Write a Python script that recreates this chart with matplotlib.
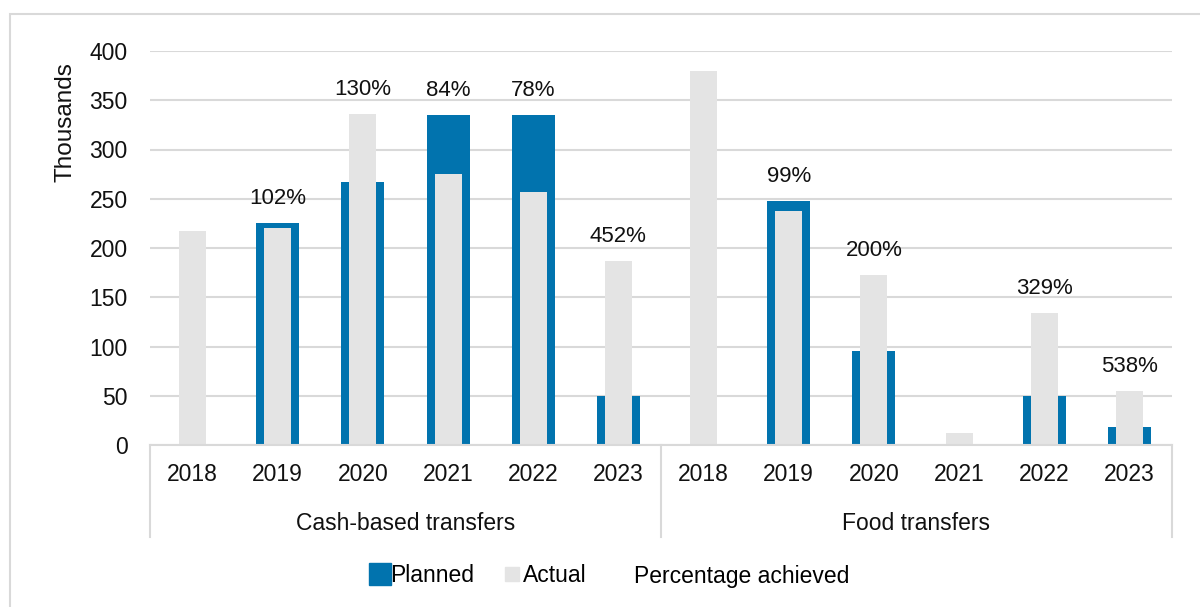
import matplotlib.pyplot as plt
from matplotlib.lines import Line2D
from matplotlib.patches import Rectangle
import numpy as np

# === Data (thousands of beneficiaries) ===
groups = ["Cash-based transfers", "Food transfers"]
years = ["2018", "2019", "2020", "2021", "2022", "2023"]
planned_cash = [0, 225, 267, 335, 335, 50]
actual_cash = [217, 220, 336, 275, 257, 187]
planned_food = [0, 248, 95, 0, 50, 18.5]
actual_food = [380, 237.5, 172.5, 12.5, 134, 54.5]
pct_cash = ["", "102%", "130%", "84%", "78%", "452%"]
pct_food = ["", "99%", "200%", "", "329%", "538%"]

planned = planned_cash + planned_food
actual = actual_cash + actual_food
pct = pct_cash + pct_food
labels = years + years

blue = "#0173ae"
grey = "#e4e4e4"
grid_c = "#d9d9d9"
txt_c = "#111111"
fs = 16.5

plt.rcParams["font.family"] = ["Liberation Sans", "DejaVu Sans"]

fig = plt.figure(figsize=(12, 6.07), dpi=100)
ax = fig.add_axes([150 / 1200, 1 - 445 / 607, 1022 / 1200, 394 / 607])

x = np.arange(len(planned))
ax.bar(x, planned, width=0.505, color=blue, zorder=2)
ax.bar(x, actual, width=0.317, color=grey, zorder=3)

# percentage labels above the taller bar
for xi, p, a, t in zip(x, planned, actual, pct):
    if t:
        ax.annotate(t, (xi, max(p, a)), xytext=(0, 10), textcoords="offset points",
                    ha="center", va="bottom", fontsize=16, color=txt_c)

ax.set_xlim(-0.5, len(x) - 0.5)
ax.set_ylim(0, 400)
ax.set_yticks(np.arange(0, 401, 50))
ax.yaxis.grid(True, color=grid_c, linewidth=1.5, zorder=0)
ax.set_axisbelow(True)
ax.tick_params(axis="y", length=0, pad=16, labelsize=fs, labelcolor=txt_c)
ax.set_xticks([])
for s in ["top", "right", "left"]:
    ax.spines[s].set_visible(False)
ax.spines["bottom"].set_color(grid_c)
ax.spines["bottom"].set_linewidth(1.5)
ax.spines["bottom"].set_zorder(4)

# category axis: years, group names and separators
trans = ax.get_xaxis_transform()
for xi, lab in zip(x, labels):
    ax.text(xi, -0.074, lab, transform=trans, ha="center", va="center",
            fontsize=fs, color=txt_c)
for gi, g in enumerate(groups):
    ax.text(gi * 6 + 2.5, -0.198, g, transform=trans, ha="center", va="center",
            fontsize=fs, color=txt_c)
for sx in [-0.5, 5.5, 11.5]:
    ax.plot([sx, sx], [0, -0.234], transform=trans, color=grid_c, lw=1.5,
            clip_on=False)

fig.text(66 / 1200, 1 - 122 / 607, "Thousands", rotation=90, ha="center",
         va="center", fontsize=17.5, color=txt_c)

handles = [
    Line2D([], [], marker="s", linestyle="none", markersize=16, color=blue),
    Line2D([], [], marker="s", linestyle="none", markersize=10, color=grey),
    Line2D([], [], linestyle="none"),
]
fig.legend(handles, ["Planned", "Actual", "Percentage achieved"], ncol=3,
           loc="center left", bbox_to_anchor=(371 / 1200, 1 - 576 / 607),
           frameon=False, fontsize=fs, handlelength=0.75, handletextpad=0.1,
           columnspacing=1.25, borderpad=0, borderaxespad=0)

# outer chart frame
fig.patches.append(Rectangle((10 / 1200, -0.01), 1.2, 1 - 14 / 607 + 0.01,
                             transform=fig.transFigure, fill=False,
                             edgecolor=grid_c, linewidth=1.5))

plt.savefig("out.png", dpi=100)
